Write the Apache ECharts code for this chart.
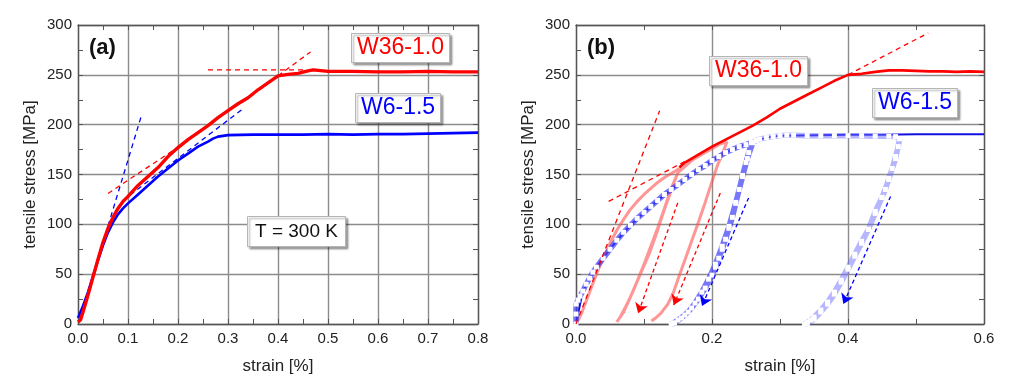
<!DOCTYPE html>
<html><head><meta charset="utf-8">
<script src="https://cdn.jsdelivr.net/npm/echarts@6/dist/echarts.min.js"></script>
<style>html,body{margin:0;padding:0;background:#fff}#c{width:1024px;height:390px}</style>
</head><body><div id="c"></div>
<script>
// ---------- Panel (a) ----------
var aXTicks = [0, 0.1, 0.2, 0.3, 0.4, 0.5, 0.6, 0.7, 0.8];
var bXTicks = [0, 0.2, 0.4, 0.6];
var yTicks = [0, 50, 100, 150, 200, 250, 300];

var aRedStrain = [0, 0.005, 0.01, 0.02, 0.03, 0.04, 0.05, 0.06, 0.07, 0.08, 0.09, 0.1, 0.12, 0.14, 0.16, 0.18, 0.2, 0.22, 0.24, 0.26, 0.28, 0.3, 0.32, 0.34, 0.36, 0.38, 0.4, 0.42, 0.44, 0.46, 0.47, 0.5, 0.55, 0.6, 0.65, 0.7, 0.75, 0.8];
var aRedStress = [2, 4, 12, 29, 47, 65, 82, 96, 107, 116, 123, 128, 139, 148, 157, 168, 177, 185, 192, 199, 207, 214, 221, 227, 235, 242, 249, 250.5, 251.5, 254, 255, 253.5, 253.5, 253, 253, 253.5, 253, 253];

var aBlueStrain = [0, 0.005, 0.01, 0.02, 0.03, 0.04, 0.05, 0.06, 0.07, 0.08, 0.09, 0.1, 0.12, 0.14, 0.16, 0.18, 0.2, 0.22, 0.24, 0.26, 0.27, 0.28, 0.3, 0.35, 0.4, 0.45, 0.5, 0.55, 0.6, 0.65, 0.7, 0.75, 0.8];
var aBlueStress = [6, 12, 18, 32, 48, 64, 79, 92, 102, 110, 116, 121, 130, 139, 148, 156, 164, 171, 178, 183, 186, 188, 189.5, 190, 190, 190, 190.5, 190, 190.5, 190.5, 191, 191.5, 192];

// dashed construction lines (a): [x1, y1, x2, y2]
var aBlueSteep = [0.055, 90, 0.128, 211];
var aBlueShallow = [0.09, 124, 0.33, 216];
var aRedShallow = [0.06, 131, 0.19, 174];
var aRedFlat = [0.26, 255, 0.455, 255];
var aRedUpper = [0.40, 249, 0.465, 273];

// ---------- Panel (b) ----------
var bRedStrain = [0.152, 0.16, 0.18, 0.2, 0.22, 0.24, 0.26, 0.28, 0.3, 0.32, 0.34, 0.36, 0.38, 0.4, 0.42, 0.44, 0.46, 0.48, 0.5, 0.52, 0.54, 0.56, 0.58, 0.6];
var bRedStress = [157, 162, 170, 178, 185, 192, 199, 207, 216, 223, 230, 237, 244, 250, 251, 253, 254.5, 254.5, 254, 253.5, 253.5, 253, 253.5, 253];

var bPinkStrain = [0, 0.005, 0.01, 0.02, 0.03, 0.04, 0.05, 0.06, 0.07, 0.08, 0.09, 0.1, 0.11, 0.12, 0.13, 0.14, 0.152,
  0.14, 0.13, 0.119, 0.108, 0.094, 0.082, 0.072, 0.065, 0.06, 0.058,
  0.062, 0.07, 0.08, 0.09, 0.1, 0.11, 0.12, 0.13, 0.14, 0.15, 0.16, 0.17, 0.18, 0.19, 0.2, 0.21, 0.222,
  0.215, 0.209, 0.2, 0.19, 0.18, 0.17, 0.16, 0.15, 0.143, 0.135, 0.125, 0.117, 0.111];
var bPinkStress = [0, 6, 14, 32, 50, 66, 81, 94, 105, 115, 123, 130, 136, 142, 147, 151, 156,
  134, 115, 92, 71, 49, 30, 16, 7, 2, 0,
  2, 12, 27, 43, 60, 78, 96, 116, 136, 152, 158, 164, 168, 172, 176, 180, 183,
  170, 161, 143, 122, 102, 83, 64, 45, 31, 20, 11, 6, 3];

var bBlueMainStrain = [0, 0.01, 0.02, 0.03, 0.04, 0.05, 0.06, 0.08, 0.1, 0.12, 0.14, 0.16, 0.18, 0.2, 0.22, 0.24, 0.26, 0.28, 0.3, 0.35, 0.4, 0.45, 0.5, 0.55, 0.6];
var bBlueMainStress = [0, 33, 46, 57, 66, 75, 84, 99, 112, 124, 135, 145, 155, 164, 172, 178, 183, 187, 189, 189.5, 190, 190, 190.5, 190.5, 190.5];

// cyclic test W6-1.5, first loading + first unload/reload loop (open squares)
var bBlueLoop1Strain = [0, 0, 0, 0.003, 0.006, 0.01, 0.015, 0.02, 0.025, 0.03, 0.04, 0.05, 0.06, 0.07, 0.08, 0.09, 0.1, 0.11, 0.12, 0.13, 0.14, 0.15, 0.16, 0.17, 0.18, 0.19, 0.2, 0.21, 0.22, 0.23, 0.24, 0.25, 0.258,
  0.254, 0.25, 0.245, 0.24, 0.235, 0.23, 0.225, 0.22, 0.215, 0.21, 0.205, 0.2, 0.19, 0.18, 0.17, 0.16, 0.15, 0.143, 0.14,
  0.145, 0.155, 0.165, 0.175, 0.185, 0.195, 0.205, 0.215, 0.225, 0.235, 0.245, 0.252, 0.26];
var bBlueLoop1Stress = [0, 10, 20, 24, 28, 33, 40, 46, 52, 57, 66, 75, 84, 92, 99, 106, 112, 118, 124, 130, 135, 140, 145, 150, 155, 159, 164, 168, 172, 175, 178, 180, 182,
  172, 162, 149, 135, 121, 107, 96, 85, 75, 66, 57, 49, 36, 25, 16, 9, 4, 1, 0,
  1, 6, 12, 21, 32, 45, 60, 78, 98, 122, 148, 166, 182];
// plateau + second unload/reload loop
var bBlueLoop2Strain = [0.26, 0.265, 0.27, 0.28, 0.29, 0.3, 0.31, 0.32, 0.34, 0.36, 0.38, 0.4, 0.42, 0.44, 0.46, 0.47, 0.476,
  0.474, 0.47, 0.465, 0.46, 0.455, 0.45, 0.44, 0.43, 0.42, 0.41, 0.4, 0.39, 0.38, 0.37, 0.36, 0.35, 0.345, 0.34, 0.336,
  0.34, 0.35, 0.36, 0.37, 0.38, 0.39, 0.4, 0.41, 0.42, 0.43, 0.44, 0.45, 0.46, 0.47, 0.476];
var bBlueLoop2Stress = [182, 184, 185.5, 187, 188, 189, 189.5, 189.5, 189, 189, 189, 189, 189, 188.5, 188.5, 188, 186,
  178, 168, 156, 146, 135, 127, 113, 95, 83, 70, 57, 44, 32, 22, 14, 7, 4, 2, 0,
  0, 5, 12, 20, 30, 42, 55, 68, 81, 95, 111, 127, 145, 166, 186];

// dashed construction lines (b)
var bRedSteep = [0.0, 0, 0.123, 214];
var bRedShallow = [0.048, 123, 0.16, 163];
var bRedUpper = [0.40, 250, 0.518, 292];
// unloading arrows (b): [x1, y1, x2, y2]
var bRedArrows = [[0.1496, 121.5, 0.0914, 10.7], [0.2122, 131.5, 0.1438, 19]];
var bBlueArrows = [[0.2538, 126.5, 0.1853, 18], [0.4626, 128, 0.3932, 20]];

// ---------- build ----------
function zip(xs, ys) { return xs.map(function (x, i) { return [x, ys[i]]; }); }
function seg(a) { return [[a[0], a[1]], [a[2], a[3]]]; }
var FONT = "'Liberation Sans', Arial, sans-serif";
var TXT = '#222';
var FRAME = '#555';
var GRIDC = '#8c8c8c';

function xAxisPair(gi, ticks) {
  var mn = ticks[0], mx = ticks[ticks.length - 1], iv = ticks[1] - ticks[0];
  var common = {
    gridIndex: gi, type: 'value', min: mn, max: mx, interval: iv,
    axisLine: { show: true, onZero: false, lineStyle: { color: FRAME, width: 1.3 } },
    axisTick: { show: true, inside: true, length: 5, lineStyle: { color: FRAME } },
    minorTick: { show: true, splitNumber: 2, length: 5, lineStyle: { color: FRAME, width: 1 } }
  };
  return [
    Object.assign({}, common, {
      position: 'bottom',
      name: 'strain [%]', nameLocation: 'middle', nameGap: 34,
      nameTextStyle: { fontFamily: FONT, fontSize: 17, color: TXT },
      axisLabel: { fontFamily: FONT, fontSize: 15, color: TXT, margin: 7, formatter: function (v) { return v.toFixed(1); } },
      splitLine: { show: true, lineStyle: { color: GRIDC, width: 1.4 } }
    }),
    Object.assign({}, common, { position: 'top', axisLabel: { show: false }, splitLine: { show: false } })
  ];
}
function yAxisPair(gi) {
  var common = {
    gridIndex: gi, type: 'value', min: yTicks[0], max: yTicks[yTicks.length - 1], interval: yTicks[1] - yTicks[0],
    axisLine: { show: true, onZero: false, lineStyle: { color: FRAME, width: 1.3 } },
    axisTick: { show: true, inside: true, length: 5, lineStyle: { color: FRAME } },
    minorTick: { show: true, splitNumber: 2, length: 5, lineStyle: { color: FRAME, width: 1 } }
  };
  return [
    Object.assign({}, common, {
      position: 'left',
      name: 'tensile stress [MPa]', nameLocation: 'middle', nameGap: 39,
      nameTextStyle: { fontFamily: FONT, fontSize: 17, color: TXT },
      axisLabel: { fontFamily: FONT, fontSize: 15, color: TXT, margin: 6 },
      splitLine: { show: true, lineStyle: { color: GRIDC, width: 1.4 } }
    }),
    Object.assign({}, common, { position: 'right', axisLabel: { show: false }, splitLine: { show: false } })
  ];
}

function lineS(xi, yi, data, color, width, dashed, z) {
  return {
    type: 'line', xAxisIndex: xi, yAxisIndex: yi, data: data, symbol: 'none',
    lineStyle: { color: color, width: width, type: dashed ? [5, 4] : 'solid' },
    silent: true, z: z || 2, animation: false
  };
}
function markerS(data, lineColor, borderColor, z) {
  return {
    type: 'line', xAxisIndex: 2, yAxisIndex: 2, data: data,
    symbol: 'emptyRect', symbolSize: 5, showSymbol: true, showAllSymbol: true,
    itemStyle: { color: 'rgba(255,255,255,0)', borderColor: borderColor, borderWidth: 1.2 },
    lineStyle: { color: lineColor, width: 5.5 },
    silent: true, animation: false, z: z
  };
}
function arrowS(xi, yi, arrs, color) {
  return {
    type: 'line', xAxisIndex: xi, yAxisIndex: yi, data: [], symbol: 'none', animation: false, z: 7,
    markLine: {
      silent: true, animation: false, symbol: ['none', 'arrow'], symbolSize: 10,
      label: { show: false },
      lineStyle: { color: color, width: 1.3, type: [4, 3] },
      emphasis: { disabled: true },
      data: arrs.map(function (a) { return [{ coord: [a[0], a[1]] }, { coord: [a[2], a[3]] }]; })
    }
  };
}
function box(text, left, top, color, size, lh, pad) {
  return {
    text: text, left: left, top: top, padding: pad,
    backgroundColor: '#fff', borderColor: '#b5b5b5', borderWidth: 1,
    shadowColor: 'rgba(0,0,0,0.35)', shadowBlur: 2, shadowOffsetX: 2, shadowOffsetY: 2,
    textStyle: { fontFamily: FONT, fontSize: size, color: color, fontWeight: 'normal', lineHeight: lh }
  };
}

var RED = '#ff0000', BLUE = '#0000ff';
var option = {
  animation: false,
  backgroundColor: '#fff',
  grid: [
    { left: 78, top: 25, width: 400, height: 299 },
    { left: 576, top: 25, width: 408, height: 299 }
  ],
  xAxis: xAxisPair(0, aXTicks).concat(xAxisPair(1, bXTicks)),
  yAxis: yAxisPair(0).concat(yAxisPair(1)),
  title: [
    box('W36-1.0', 351, 33, RED, 23, 24, [3, 6]),
    box('W6-1.5', 355, 93, BLUE, 23, 24, [3, 6]),
    box('T = 300 K', 247, 216, '#111', 19, 21, [5, 8]),
    box('W36-1.0', 709, 56, RED, 23, 24, [3, 6]),
    box('W6-1.5', 872, 88, BLUE, 23, 24, [3, 6])
  ],
  graphic: [
    { type: 'text', left: 89, top: 37, style: { text: '(a)', font: "bold 22px 'Liberation Sans', Arial, sans-serif", fill: '#111' } },
    { type: 'text', left: 587, top: 37, style: { text: '(b)', font: "bold 22px 'Liberation Sans', Arial, sans-serif", fill: '#111' } }
  ],
  series: [
    // panel a
    lineS(0, 0, seg(aBlueSteep), BLUE, 1.3, true),
    lineS(0, 0, seg(aBlueShallow), BLUE, 1.3, true),
    lineS(0, 0, seg(aRedShallow), RED, 1.3, true),
    lineS(0, 0, seg(aRedFlat), RED, 1.3, true),
    lineS(0, 0, seg(aRedUpper), RED, 1.3, true),
    lineS(0, 0, zip(aBlueStrain, aBlueStress), BLUE, 2.6, false, 3),
    lineS(0, 0, zip(aRedStrain, aRedStress), RED, 3.4, false, 4),
    // panel b
    lineS(2, 2, zip(bBlueMainStrain, bBlueMainStress), '#1010e0', 2, false, 2),
    lineS(2, 2, zip(bPinkStrain, bPinkStress), 'rgba(255,80,80,0.6)', 3, false, 3),
    markerS(zip(bBlueLoop2Strain, bBlueLoop2Stress), 'rgba(110,110,255,0.5)', 'rgba(80,80,255,0.75)', 4),
    markerS(zip(bBlueLoop1Strain, bBlueLoop1Stress), 'rgba(60,60,245,0.7)', 'rgba(30,30,230,0.85)', 4),
    lineS(2, 2, zip(bRedStrain, bRedStress), RED, 2.6, false, 5),
    lineS(2, 2, seg(bRedSteep), RED, 1.3, true, 6),
    lineS(2, 2, seg(bRedShallow), RED, 1.3, true, 6),
    lineS(2, 2, seg(bRedUpper), RED, 1.3, true, 6),
    arrowS(2, 2, bRedArrows, RED),
    arrowS(2, 2, bBlueArrows, BLUE)
  ]
};
var chart = echarts.init(document.getElementById('c'), null, { renderer: 'canvas' });
chart.setOption(option);
</script>
</body></html>
